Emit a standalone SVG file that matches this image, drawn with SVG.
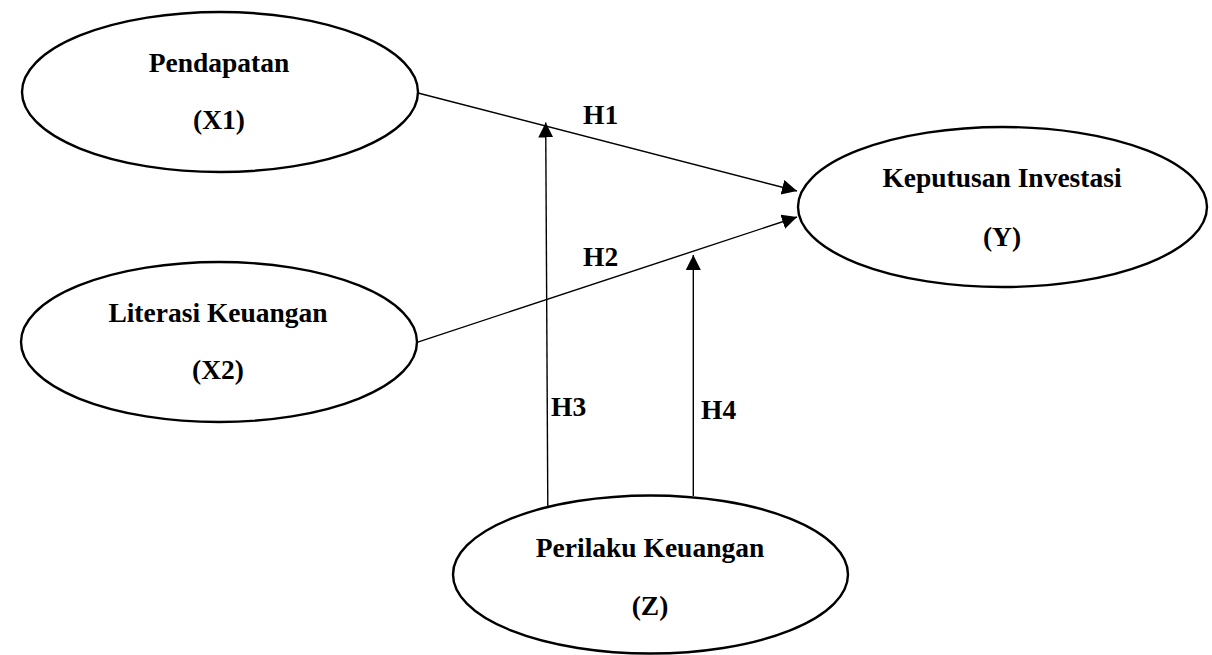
<svg xmlns="http://www.w3.org/2000/svg" width="1212" height="655" viewBox="0 0 1212 655">
<defs>
<style>
.node ellipse{fill:#fff;stroke:#000;stroke-width:2.4}
text{font-family:"Liberation Serif","Times New Roman",serif;font-weight:bold;font-size:27.5px;fill:#000}
.node text{text-anchor:middle}
.conn line{stroke:#000;stroke-width:1.4;fill:none}
</style>
<marker id="ah" markerUnits="userSpaceOnUse" markerWidth="16" markerHeight="16" refX="15" refY="7.5" orient="auto">
<path d="M0,0 L15,7.5 L0,15 z" fill="#000"/>
</marker>
</defs>
<rect width="1212" height="655" fill="#fff"/>
<g id="connectors" class="conn">
<line x1="417" y1="92.7" x2="797" y2="191" marker-end="url(#ah)"/>
<line x1="417" y1="342.3" x2="797" y2="217" marker-end="url(#ah)"/>
<line x1="547.8" y1="506" x2="545.7" y2="122.5" marker-end="url(#ah)"/>
<line x1="693.3" y1="496" x2="693.3" y2="255" marker-end="url(#ah)"/>
</g>
<g id="labels">
<text x="583" y="124">H1</text>
<text x="583" y="266">H2</text>
<text x="551" y="416">H3</text>
<text x="701" y="419">H4</text>
</g>
<g id="node-x1" class="node">
<ellipse cx="220" cy="92" rx="198" ry="80"/>
<text x="219" y="72">Pendapatan</text>
<text x="219" y="129">(X1)</text>
</g>
<g id="node-x2" class="node">
<ellipse cx="219" cy="342" rx="198" ry="80"/>
<text x="218" y="322">Literasi Keuangan</text>
<text x="218" y="379">(X2)</text>
</g>
<g id="node-y" class="node">
<ellipse cx="1002.5" cy="207" rx="204.5" ry="80"/>
<text x="1002" y="187">Keputusan Investasi</text>
<text x="1002" y="246">(Y)</text>
</g>
<g id="node-z" class="node">
<ellipse cx="650.5" cy="574.5" rx="197.5" ry="79"/>
<text x="650" y="557">Perilaku Keuangan</text>
<text x="650" y="615">(Z)</text>
</g>
</svg>
